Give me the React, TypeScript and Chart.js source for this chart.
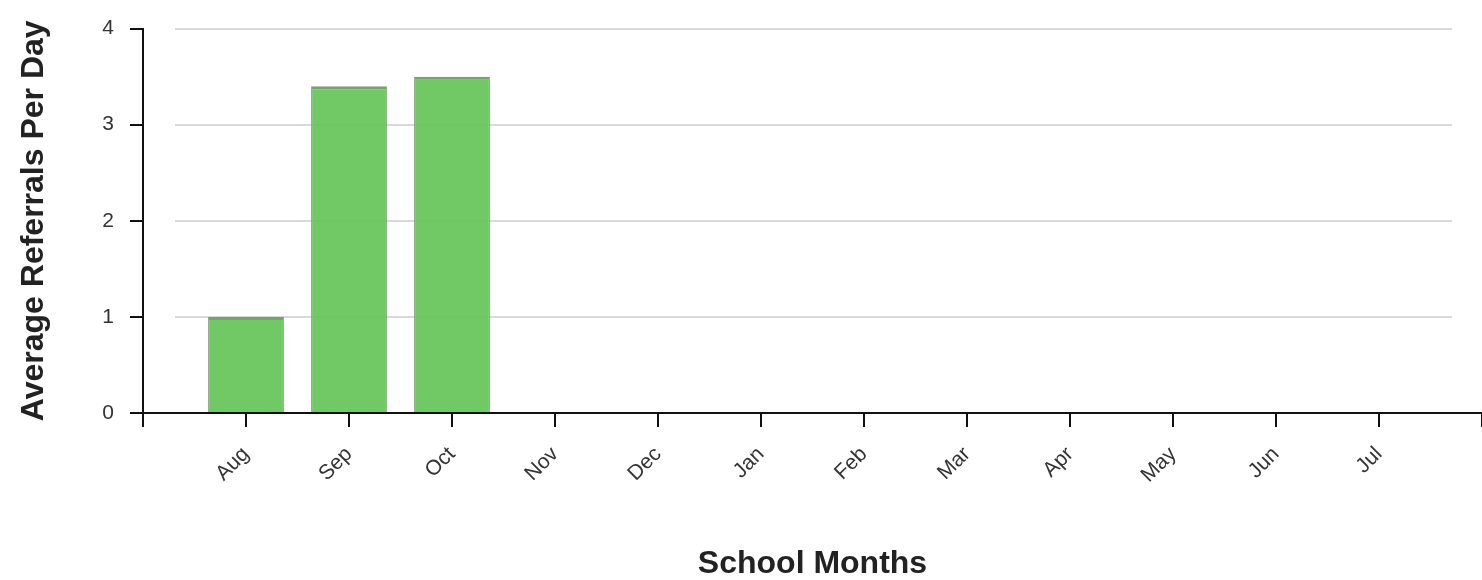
import React, { useEffect, useRef } from 'react';
import { Chart, registerables } from 'chart.js';

Chart.register(...registerables);

// Leading/trailing empty slots keep Aug and Jul one full step from the plot edges, as in the reference
const months = ['', 'Aug', 'Sep', 'Oct', 'Nov', 'Dec', 'Jan', 'Feb', 'Mar', 'Apr', 'May', 'Jun', 'Jul', ''];
const avgReferrals = [null, 1, 3.4, 3.5, 0, 0, 0, 0, 0, 0, 0, 0, 0, null];
const yTickValues = [0, 1, 2, 3, 4];

const FONT = '"Liberation Sans", Arial, Helvetica, sans-serif';

const insetGrid = {
  id: 'insetGrid',
  beforeDatasetsDraw(chart: any) {
    const { ctx, chartArea, scales } = chart;
    const y = scales.y;
    ctx.save();
    ctx.strokeStyle = '#d9d9d9';
    ctx.lineWidth = 2;
    yTickValues.forEach((v) => {
      if (v === 0) return;
      const py = Math.round(y.getPixelForValue(v));
      ctx.beginPath();
      ctx.moveTo(chartArea.left + 32, py);
      ctx.lineTo(chartArea.right - 30, py);
      ctx.stroke();
    });
    ctx.restore();
  },
};

export default function App() {
  const ref = useRef<HTMLCanvasElement | null>(null);

  useEffect(() => {
    if (!ref.current) return;
    const chart = new Chart(ref.current, {
      type: 'bar',
      data: {
        labels: months,
        datasets: [
          {
            label: 'Average Referrals Per Day',
            data: avgReferrals as any,
            backgroundColor: 'rgba(100, 196, 88, 0.92)',
            borderColor: 'rgba(110, 150, 100, 0.9)',
            borderWidth: { top: 3, left: 1, right: 1, bottom: 0 } as any,
            barPercentage: 0.92,
            categoryPercentage: 0.8,
          },
        ],
      },
      options: {
        animation: false,
        responsive: false,
        maintainAspectRatio: false,
        layout: { padding: { top: 28, right: 0, bottom: 0, left: 0 } },
        plugins: {
          legend: { display: false },
          tooltip: { enabled: false },
        },
        scales: {
          x: {
            offset: false,
            grid: {
              drawOnChartArea: false,
              drawTicks: true,
              tickLength: 14,
              tickColor: '#111',
              lineWidth: 2,
              offset: false,
            },
            border: { display: true, color: '#111', width: 2 },
            ticks: {
              autoSkip: false,
              maxRotation: 45,
              minRotation: 45,
              padding: 15,
              color: '#333',
              font: { family: FONT, size: 21 },
            },
            title: {
              display: true,
              text: 'School Months',
              color: '#222',
              font: { family: FONT, size: 32, weight: 'bold', lineHeight: 1 },
              padding: { top: 0, bottom: 0 },
            },
            afterFit(scale: any) {
              scale.height = 167;
              scale.paddingRight = 0;
              scale.paddingLeft = 0;
            },
          },
          y: {
            min: 0,
            max: 4,
            grid: {
              drawOnChartArea: false,
              drawTicks: true,
              tickLength: 13,
              tickColor: '#111',
              lineWidth: 2,
            },
            border: { display: true, color: '#111', width: 2 },
            ticks: {
              stepSize: 1,
              padding: 16,
              color: '#333',
              font: { family: FONT, size: 21 },
            },
            afterBuildTicks(scale: any) {
              scale.ticks = yTickValues.map((v) => ({ value: v }));
            },
            title: {
              display: true,
              text: 'Average Referrals Per Day',
              color: '#222',
              font: { family: FONT, size: 32, weight: 'bold', lineHeight: 1 },
              padding: { top: 18, bottom: 0 },
            },
            afterFit(scale: any) {
              scale.width = 143;
            },
          },
        },
      },
      plugins: [insetGrid],
    });
    return () => chart.destroy();
  }, []);

  return (
    <div style={{ position: 'fixed', left: 0, top: 0, width: 1482, height: 580, background: '#fff' }}>
      <canvas ref={ref} width={1482} height={580} style={{ display: 'block', width: 1482, height: 580 }} />
    </div>
  );
}
